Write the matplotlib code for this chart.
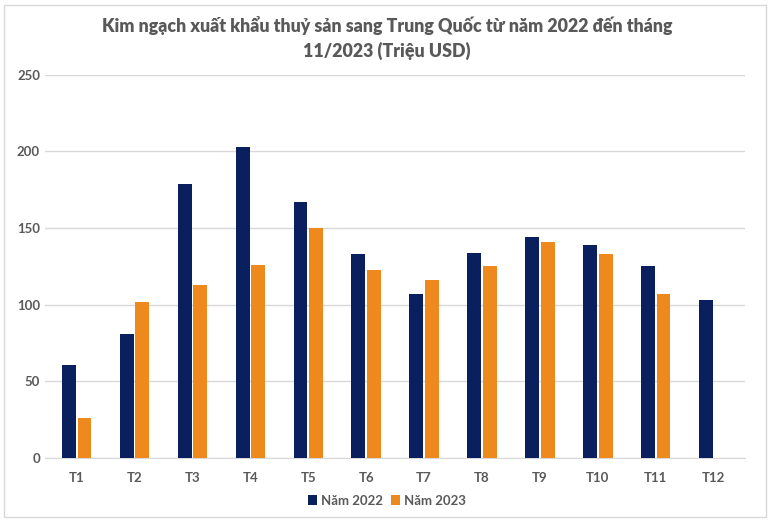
import matplotlib.pyplot as plt
import numpy as np
from matplotlib.patches import Rectangle

plt.rcParams['font.family'] = ['Lato', 'DejaVu Sans']

months = ['T1', 'T2', 'T3', 'T4', 'T5', 'T6', 'T7', 'T8', 'T9', 'T10', 'T11', 'T12']
nam2022 = [61, 81, 179, 203, 167, 133, 107, 134, 144, 139, 125, 103]
nam2023 = [26, 102, 113, 126, 150, 123, 116, 125, 141, 133, 107, np.nan]

navy = '#0A1F5E'
orange = '#EE8A1D'
grey_text = '#595959'

fig = plt.figure(figsize=(7.74, 5.23), dpi=100)
fig.patches.append(Rectangle((0.005, 0.012), 0.985, 0.978, transform=fig.transFigure,
                             fill=False, edgecolor='#d9d9d9', linewidth=1))
ax = fig.add_axes([0.058, 0.124, 0.905, 0.733])

x = np.arange(len(months))
w = 0.24
gap = 0.03
ax.bar(x - (w + gap) / 2, nam2022, w, color=navy, label='Năm 2022', zorder=3)
ax.bar(x + (w + gap) / 2, nam2023, w, color=orange, label='Năm 2023', zorder=3)

ax.set_ylim(0, 250)
ax.set_yticks(range(0, 251, 50))
ax.set_xlim(-0.55, len(months) - 0.45)
ax.set_xticks(x)
ax.set_xticklabels(months)
ax.grid(axis='y', color='#d9d9d9', linewidth=1, zorder=0)
for s in ['top', 'right', 'left']:
    ax.spines[s].set_visible(False)
ax.spines['bottom'].set_color('#d9d9d9')
ax.tick_params(axis='both', length=0, colors=grey_text, labelsize=9.5)
ax.tick_params(axis='x', pad=10)
for lbl in ax.get_xticklabels() + ax.get_yticklabels():
    lbl.set_fontweight('bold')

fig.text(0.5, 0.927, 'Kim ngạch xuất khẩu thuỷ sản sang Trung Quốc từ năm 2022 đến tháng\n11/2023 (Triệu USD)',
         ha='center', va='center', fontsize=12.8, fontweight='heavy', color=grey_text, linespacing=1.45)

leg = fig.legend(loc='center', bbox_to_anchor=(0.5, 0.043), ncol=2, frameon=False,
                 handlelength=0.7, handleheight=0.7, handletextpad=0.3, columnspacing=0.6,
                 prop={'weight': 'bold', 'size': 9.5})
for t in leg.get_texts():
    t.set_color(grey_text)

fig.savefig('out.png', dpi=100)
